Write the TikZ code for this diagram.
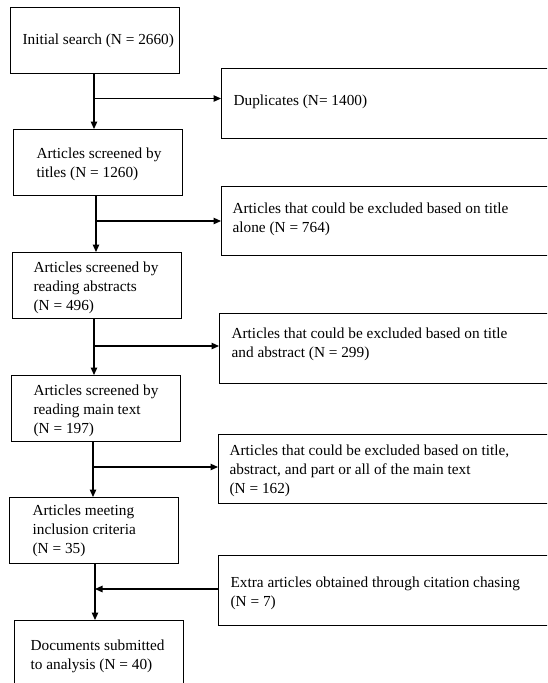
\documentclass[tikz,border=0pt]{standalone}
\usepackage{fontspec}
\setmainfont{Liberation Serif}
\usetikzlibrary{arrows.meta}

\begin{document}
\begin{tikzpicture}[x=1pt, y=-1pt, line width=1.2pt,
	box/.style={draw, minimum width=169, minimum height=66, anchor=north west, inner sep=0},
	side/.style={draw, minimum width=360, minimum height=69.5, anchor=north west, inner sep=0},
	txt/.style={anchor=west, align=left, inner sep=0, font=\fontsize{15.3}{19}\selectfont},
	arr/.style={-{Triangle[length=7.5pt, width=6.5pt]}}]
	\useasboundingbox (0, 0) rectangle (547, 683);
	\clip (0, 0) rectangle (547, 683);

	% main column
	\node[box] (init) at (10, 7) {};
	\node[box] (titles) at (13, 129) {};
	\node[box] (abstracts) at (12, 252) {};
	\node[box] (maintext) at (11, 375) {};
	\node[box] (criteria) at (9, 497) {};
	\node[box] (analysis) at (14, 620) {};

	% side boxes
	\node[side] (dup) at (221, 68) {};
	\node[side] (extitle) at (221, 185.5) {};
	\node[side] (exabstract) at (219, 313) {};
	\node[side] (exmain) at (218, 433.5) {};
	\node[side] (extra) at (218, 555) {};

	\node[txt] (init-t) at (22, 41) {Initial search (N = 2660)};
	\node[txt] (titles-t) at (36, 164.5) {Articles screened by\\titles (N = 1260)};
	\node[txt] (abstracts-t) at (33, 288) {Articles screened by\\reading abstracts\\(N = 496)};
	\node[txt] (maintext-t) at (33, 411) {Articles screened by\\reading main text\\(N = 197)};
	\node[txt] (criteria-t) at (32, 530.5) {Articles meeting\\inclusion criteria\\(N = 35)};
	\node[txt] (analysis-t) at (30, 656.5) {Documents submitted\\to analysis (N = 40)};

	\node[txt] (dup-t) at (233, 101.5) {Duplicates (N= 1400)};
	\node[txt] (extitle-t) at (232, 219.5) {Articles that could be excluded based on title\\alone (N = 764)};
	\node[txt] (exabstract-t) at (231, 344.5) {Articles that could be excluded based on title\\and abstract (N = 299)};
	\node[txt] (exmain-t) at (229, 470.5) {Articles that could be excluded based on title,\\abstract, and part or all of the main text\\(N = 162)};
	\node[txt] (extra-t) at (230, 593) {Extra articles obtained through citation chasing\\(N = 7)};

	\coordinate (j1) at (94, 98.5);
	\coordinate (j2) at (96, 221);
	\coordinate (j3) at (94, 346);
	\coordinate (j4) at (93, 467);
	\coordinate (j5) at (95, 589);

	\draw[arr] (init.south -| j1) -- (titles.north -| j1);
	\draw[arr] (j1) -- (j1 -| dup.west);
	\draw[arr] (titles.south -| j2) -- (abstracts.north -| j2);
	\draw[arr] (j2) -- (j2 -| extitle.west);
	\draw[arr] (abstracts.south -| j3) -- (maintext.north -| j3);
	\draw[arr] (j3) -- (j3 -| exabstract.west);
	\draw[arr] (maintext.south -| j4) -- (criteria.north -| j4);
	\draw[arr] (j4) -- (j4 -| exmain.west);
	\draw[arr] (criteria.south -| j5) -- (analysis.north -| j5);
	\draw[arr] (extra.west |- j5) -- (j5);
\end{tikzpicture}
\end{document}
